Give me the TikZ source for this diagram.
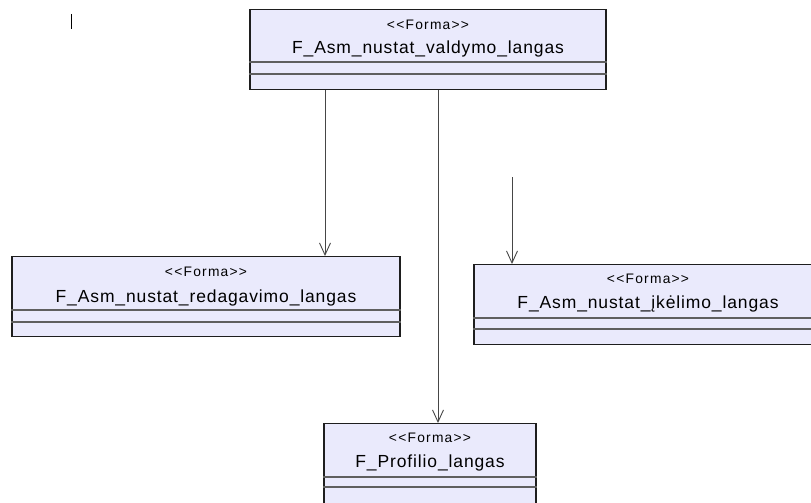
\documentclass[tikz,border=0pt]{standalone}
\usepackage{fontspec}
\setmainfont{Liberation Sans}
\newfontfamily\stfont[LetterSpace=9]{Liberation Sans}
\newfontfamily\nmfont[LetterSpace=5]{Liberation Sans}
\usetikzlibrary{arrows.meta}
\definecolor{boxfill}{RGB}{234,234,252}
\definecolor{boxline}{RGB}{30,30,30}
\definecolor{divline}{RGB}{95,95,95}
\definecolor{edgeline}{RGB}{70,70,70}
\tikzset{cl/.style = {rectangle, draw=boxline, fill=boxfill, line width=1.2pt, minimum height=80pt, inner sep=0pt},
         st/.style = {anchor=base, inner sep=0pt, font=\stfont\fontsize{13.8}{16}\selectfont},
         nm/.style = {anchor=base, inner sep=0pt, font=\nmfont\fontsize{17.5}{20}\selectfont},
         dv/.style = {draw=divline, line width=1.2pt},
         ar/.style = {draw=edgeline, line width=0.9pt, -{Straight Barb[length=12pt, width=11pt]}}}

\begin{document}
\begin{tikzpicture}[x=1pt, y=-1pt]
    \useasboundingbox (0,0) rectangle (811,503);
    \clip (0,0) rectangle (811,503);
    \draw[line width=1pt] (71,14) -- (71,29);
    % classes
    \node[cl, anchor=north, minimum width=356pt] (vald)  at (428,9)   {};
    \node[cl, anchor=north, minimum width=388pt] (redag) at (206,256) {};
    \node[cl, anchor=north, minimum width=348pt] (ikel)  at (648,264) {};
    \node[cl, anchor=north, minimum width=212pt] (prof)  at (430,423) {};
    \node[st] (valdS)  at (428,30)  {{<}{<}Forma{>}{>}};
    \node[nm] (valdN)  at (428,53)  {F\_Asm\_nustat\_valdymo\_langas};
    \node[st] (redagS) at (206,276) {{<}{<}Forma{>}{>}};
    \node[nm] (redagN) at (206,302) {F\_Asm\_nustat\_redagavimo\_langas};
    \node[st] (ikelS)  at (648,283) {{<}{<}Forma{>}{>}};
    \node[nm] (ikelN)  at (648,308) {F\_Asm\_nustat\_įkėlimo\_langas};
    \node[st] (profS)  at (430,442) {{<}{<}Forma{>}{>}};
    \node[nm] (profN)  at (430,467) {F\_Profilio\_langas};
    \foreach \n/\a/\b in {vald/53/65, redag/54/66, ikel/54/65, prof/54/64} {
      \draw[dv] ([yshift=-\a pt]\n.north west) -- ([yshift=-\a pt]\n.north east);
      \draw[dv] ([yshift=-\b pt]\n.north west) -- ([yshift=-\b pt]\n.north east);
    }
    % links
    \coordinate (free) at (512,177);
    \draw[ar] ([xshift=-103pt]vald.south) -- ([xshift=-103pt]vald.south |- redag.north);
    \draw[ar] ([xshift=10pt]vald.south) -- ([xshift=10pt]vald.south |- prof.north);
    \draw[ar] (free) -- (free |- ikel.north);
\end{tikzpicture}
\end{document}
